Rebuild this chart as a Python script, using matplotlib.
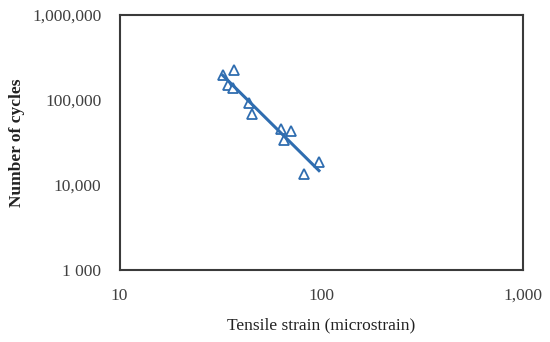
import numpy as np
import matplotlib
matplotlib.use("Agg")
import matplotlib.pyplot as plt
from matplotlib.ticker import FixedLocator, FixedFormatter, NullLocator

# Data
strain = [32.5, 36.9, 34.4, 36.7, 43.8, 45.3, 63.5, 70.8, 65.8, 82.6, 97.7]
cycles = [197000, 225000, 150000, 137000, 91500, 67900, 45200, 43500, 33900, 13500, 18800]

x_ticks = [10, 100, 1000]
x_tick_labels = ["10", "100", "1,000"]
y_ticks = [1000, 10000, 100000, 1000000]
y_tick_labels = ["1 000", "10,000", "100,000", "1,000,000"]

# Power-law trend line (fit in log space)
lx = np.log10(strain)
ly = np.log10(cycles)
b, a = np.polyfit(lx, ly, 1)
tx = np.array([min(strain), max(strain)])
ty = 10 ** (a + b * np.log10(tx))

plt.rcParams['font.family'] = ['Liberation Serif', 'DejaVu Serif']

W, H = 550, 342
fig = plt.figure(figsize=(5.5, 3.42), dpi=100)
ax = fig.add_axes([119.5 / W, 1 - 270 / H, 403 / W, 255 / H])

color = '#2F6DB0'
ax.plot(strain, cycles, linestyle='none', marker='^', markersize=6.5,
        markerfacecolor='white', markeredgecolor=color, markeredgewidth=1.3)
ax.plot(tx, ty, color=color, linewidth=2.2)

ax.set_xscale('log')
ax.set_yscale('log')
ax.set_xlim(10, 1000)
ax.set_ylim(1000, 1000000)

ax.xaxis.set_major_locator(FixedLocator(x_ticks))
ax.xaxis.set_major_formatter(FixedFormatter(x_tick_labels))
ax.yaxis.set_major_locator(FixedLocator(y_ticks))
ax.yaxis.set_major_formatter(FixedFormatter(y_tick_labels))
ax.xaxis.set_minor_locator(NullLocator())
ax.yaxis.set_minor_locator(NullLocator())

ax.tick_params(axis='both', length=0, labelsize=12.5, colors='#404040')
ax.tick_params(axis='x', pad=13)
ax.tick_params(axis='y', pad=13)

for s in ax.spines.values():
    s.set_color('#3a3a3a')
    s.set_linewidth(1.5)

ax.set_xlabel('Tensile strain (microstrain)', fontsize=12.5, color='#222222')
ax.set_ylabel('Number of cycles', fontsize=12.5, color='#222222', fontweight='bold')
# place labels in pixel positions matching the reference
ax.xaxis.set_label_coords((321 - 119.5) / 403, (270 - 325) / 255, transform=ax.transAxes)
ax.xaxis.label.set_va('center')
ax.yaxis.set_label_coords((17 - 119.5) / 403, 0.5, transform=ax.transAxes)
ax.yaxis.label.set_va('center')

fig.savefig('out.png', dpi=100)
